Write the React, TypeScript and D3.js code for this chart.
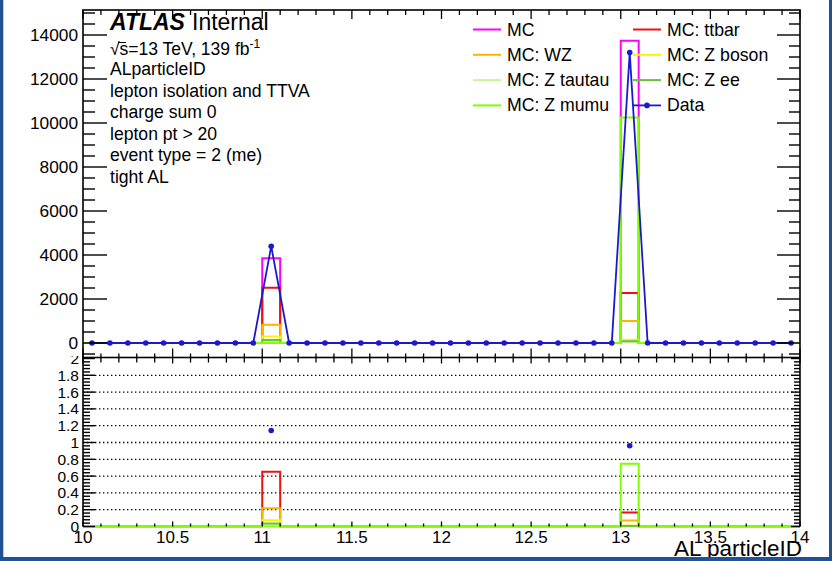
import React from "react";
import * as d3 from "d3";

// Histogram binning: 40 bins of width 0.1 on [10, 14]
const binLow: number[] = d3.range(40).map((i) => +(10 + i * 0.1).toFixed(2));
const binWidth = 0.1;

// Event counts per bin (bins 11.0-11.1 and 13.0-13.1 are populated)
const dataCounts = [
  0, 0, 0, 0, 0, 0, 0, 0, 0, 0,
  4400, 0, 0, 0, 0, 0, 0, 0, 0, 0,
  0, 0, 0, 0, 0, 0, 0, 0, 0, 0,
  13200, 0, 0, 0, 0, 0, 0, 0, 0, 0,
];
const mcTotal = [
  0, 0, 0, 0, 0, 0, 0, 0, 0, 0,
  3850, 0, 0, 0, 0, 0, 0, 0, 0, 0,
  0, 0, 0, 0, 0, 0, 0, 0, 0, 0,
  13740, 0, 0, 0, 0, 0, 0, 0, 0, 0,
];
const mcTtbar = [
  0, 0, 0, 0, 0, 0, 0, 0, 0, 0,
  2510, 0, 0, 0, 0, 0, 0, 0, 0, 0,
  0, 0, 0, 0, 0, 0, 0, 0, 0, 0,
  2270, 0, 0, 0, 0, 0, 0, 0, 0, 0,
];
const mcWZ = [
  0, 0, 0, 0, 0, 0, 0, 0, 0, 0,
  835, 0, 0, 0, 0, 0, 0, 0, 0, 0,
  0, 0, 0, 0, 0, 0, 0, 0, 0, 0,
  1000, 0, 0, 0, 0, 0, 0, 0, 0, 0,
];
const mcZboson = [
  0, 0, 0, 0, 0, 0, 0, 0, 0, 0,
  290, 0, 0, 0, 0, 0, 0, 0, 0, 0,
  0, 0, 0, 0, 0, 0, 0, 0, 0, 0,
  150, 0, 0, 0, 0, 0, 0, 0, 0, 0,
];
const mcZtautau = [
  0, 0, 0, 0, 0, 0, 0, 0, 0, 0,
  80, 0, 0, 0, 0, 0, 0, 0, 0, 0,
  0, 0, 0, 0, 0, 0, 0, 0, 0, 0,
  60, 0, 0, 0, 0, 0, 0, 0, 0, 0,
];
const mcZee = [
  0, 0, 0, 0, 0, 0, 0, 0, 0, 0,
  135, 0, 0, 0, 0, 0, 0, 0, 0, 0,
  0, 0, 0, 0, 0, 0, 0, 0, 0, 0,
  80, 0, 0, 0, 0, 0, 0, 0, 0, 0,
];
const mcZmumu = [
  0, 0, 0, 0, 0, 0, 0, 0, 0, 0,
  0, 0, 0, 0, 0, 0, 0, 0, 0, 0,
  0, 0, 0, 0, 0, 0, 0, 0, 0, 0,
  10250, 0, 0, 0, 0, 0, 0, 0, 0, 0,
];

const xTickLabels = ["10", "10.5", "11", "11.5", "12", "12.5", "13", "13.5", "14"];
const yTopTickLabels = ["0", "2000", "4000", "6000", "8000", "10000", "12000", "14000"];
const yRatioTickLabels = ["0", "0.2", "0.4", "0.6", "0.8", "1", "1.2", "1.4", "1.6", "1.8", "2"];

const infoLines = [
  "ALparticleID",
  "lepton isolation and TTVA",
  "charge sum 0",
  "lepton pt > 20",
  "event type = 2 (me)",
  "tight AL",
];

const series = [
  { name: "MC", values: mcTotal, color: "#ff00ff" },
  { name: "MC: ttbar", values: mcTtbar, color: "#ee1111" },
  { name: "MC: WZ", values: mcWZ, color: "#ffb300" },
  { name: "MC: Z boson", values: mcZboson, color: "#f5f500" },
  { name: "MC: Z tautau", values: mcZtautau, color: "#c8f59a" },
  { name: "MC: Z ee", values: mcZee, color: "#6cc040" },
  { name: "MC: Z mumu", values: mcZmumu, color: "#7fff00" },
];
const dataColor = "#1a1acc";

const FONT = "'Liberation Sans', Arial, Helvetica, sans-serif";

// Frame geometry
const L = 83;
const R = 800;
const TOP = 10;
const MID = 357.5;
const BOT = 526.5;

export default function App() {
  const x = d3.scaleLinear().domain([10, 14]).range([L, R]);
  const yT = d3.scaleLinear().domain([0, 14000]).range([343, 35]);
  const yR = d3.scaleLinear().domain([0, 2]).range([BOT, 358.5]);

  const stepLine = (vals: number[], y: d3.ScaleLinear<number, number>) => {
    const pts: [number, number][] = binLow.map((b, i) => [x(b), y(vals[i])]);
    pts.push([x(binLow[binLow.length - 1] + binWidth), y(vals[vals.length - 1])]);
    return d3.line().curve(d3.curveStepAfter)(pts) as string;
  };

  const centers = binLow.map((b) => b + binWidth / 2);
  const dataLine = d3.line()(centers.map((c, i) => [x(c), yT(dataCounts[i])] as [number, number])) as string;

  const ratio = (vals: number[]) => vals.map((v, i) => (mcTotal[i] > 0 ? v / mcTotal[i] : 0));
  const dataRatioPts = centers
    .map((c, i) => ({ c, r: mcTotal[i] > 0 ? dataCounts[i] / mcTotal[i] : null }))
    .filter((d) => d.r !== null) as { c: number; r: number }[];

  // Tick positions
  const xMajor = d3.range(0, 9).map((i) => 10 + i * 0.5);
  const xMinor = d3.range(0, 41).map((i) => 10 + i * 0.1);
  const yTopMajor = d3.range(0, 8).map((i) => i * 2000);
  const yTopMinor = d3.range(-1, 31).map((i) => i * 500);
  const yRMajor = d3.range(0, 11).map((i) => i * 0.2);
  const yRMinor = d3.range(0, 51).map((i) => i * 0.04);
  const gridVals = d3.range(1, 10).map((i) => i * 0.2);

  const tick = "#000";

  return (
    <svg
      width={832}
      height={561}
      style={{ position: "absolute", left: 0, top: 0, background: "#fff" }}
      fontFamily={FONT}
    >
      <defs>
        <clipPath id="topClip">
          <rect x={L} y={TOP} width={R - L} height={MID - TOP} />
        </clipPath>
        <clipPath id="ratioClip">
          <rect x={L} y={MID} width={R - L} height={BOT - MID + 1} />
        </clipPath>
        <clipPath id="ratioLabelClip">
          <rect x={0} y={356} width={832} height={205} />
        </clipPath>
      </defs>
      <rect x={0} y={0} width={832} height={561} fill="#fff" />

      {/* ---------- Ratio panel ---------- */}
      <g>
        {gridVals.map((v) => (
          <line
            key={"g" + v}
            x1={L}
            x2={R}
            y1={yR(v)}
            y2={yR(v)}
            stroke="#000"
            strokeWidth={1.3}
            strokeDasharray="1.4 2.6"
          />
        ))}
        <g clipPath="url(#ratioClip)">
          {series.slice(1).map((s) => (
            <path key={"r" + s.name} d={stepLine(ratio(s.values), yR)} fill="none" stroke={s.color} strokeWidth={2} />
          ))}
        </g>
        {dataRatioPts.map((d) => (
          <circle key={"dr" + d.c} cx={x(d.c)} cy={yR(d.r)} r={2.8} fill={dataColor} />
        ))}
        {/* ratio frame */}
        <line x1={L} x2={L} y1={MID} y2={BOT} stroke="#000" strokeWidth={1.6} />
        <line x1={R} x2={R} y1={MID} y2={BOT} stroke="#000" strokeWidth={1.6} />
        {yRMinor.map((v, i) => {
          const major = i % 5 === 0;
          const len = major ? 12 : 7;
          return (
            <g key={"ryt" + i}>
              <line x1={L} x2={L + len} y1={yR(v)} y2={yR(v)} stroke={tick} strokeWidth={1.4} />
              <line x1={R} x2={R - (major ? 9 : 6)} y1={yR(v)} y2={yR(v)} stroke={tick} strokeWidth={1.4} />
            </g>
          );
        })}
        {xMinor.map((v, i) => {
          const major = i % 5 === 0;
          return (
            <g key={"rxt" + i}>
              <line x1={x(v)} x2={x(v)} y1={BOT} y2={BOT - (major ? 5 : 3)} stroke={tick} strokeWidth={1.3} />
              <line x1={x(v)} x2={x(v)} y1={MID} y2={MID + (major ? 6 : 5)} stroke={tick} strokeWidth={1.3} />
            </g>
          );
        })}
        <g clipPath="url(#ratioLabelClip)">
          {yRatioTickLabels.map((t, i) => (
            <text
              key={"ryl" + t}
              x={79}
              y={yR(yRMajor[i])}
              textAnchor="end"
              dominantBaseline="central"
              fontSize={15.5}
              fill="#000"
            >
              {t}
            </text>
          ))}
        </g>
        {xTickLabels.map((t, i) => (
          <text key={"xl" + t} x={x(xMajor[i])} y={543} textAnchor="middle" fontSize={17} fill="#000">
            {t}
          </text>
        ))}
        <text x={802} y={556} textAnchor="end" fontSize={22.5} fill="#000">
          AL particleID
        </text>
      </g>

      {/* ---------- Main panel ---------- */}
      <g>
        <g clipPath="url(#topClip)">
          {series.map((s) => (
            <path key={"t" + s.name} d={stepLine(s.values, yT)} fill="none" stroke={s.color} strokeWidth={2} />
          ))}
          <path d={dataLine} fill="none" stroke={dataColor} strokeWidth={1.8} />
          {centers.map((c, i) => (
            <circle key={"dp" + i} cx={x(c)} cy={yT(dataCounts[i])} r={2.8} fill={dataColor} />
          ))}
        </g>
        <rect x={L} y={TOP} width={R - L} height={MID - TOP} fill="none" stroke="#000" strokeWidth={1.6} />
        {yTopMinor.map((v, i) => {
          const major = v % 2000 === 0;
          return (
            <g key={"tyt" + i}>
              <line x1={L} x2={L + (major ? 24 : 12)} y1={yT(v)} y2={yT(v)} stroke={tick} strokeWidth={1.4} />
              <line x1={R} x2={R - (major ? 23 : 11)} y1={yT(v)} y2={yT(v)} stroke={tick} strokeWidth={1.4} />
            </g>
          );
        })}
        {xMinor.map((v, i) => {
          const major = i % 5 === 0;
          return (
            <g key={"txt" + i}>
              <line x1={x(v)} x2={x(v)} y1={TOP} y2={TOP + (major ? 9 : 5)} stroke={tick} strokeWidth={1.3} />
              <line x1={x(v)} x2={x(v)} y1={MID} y2={MID - (major ? 9 : 4)} stroke={tick} strokeWidth={1.3} />
            </g>
          );
        })}
        {yTopTickLabels.map((t, i) => (
          <text
            key={"tyl" + t}
            x={78}
            y={yT(yTopMajor[i])}
            textAnchor="end"
            dominantBaseline="central"
            fontSize={17.3}
            fill="#000"
          >
            {t}
          </text>
        ))}

        {/* Labels block */}
        <text x={110} y={30} fontSize={23} fontWeight="bold" fontStyle="italic" fill="#000">
          ATLAS
        </text>
        <text x={192} y={30} fontSize={23} fill="#000">
          Internal
        </text>
        <text x={110} y={55} fontSize={17.5} fill="#000">
          √s=13 TeV, 139 fb
          <tspan dy={-7} fontSize={12}>
            -1
          </tspan>
        </text>
        <line x1={118} x2={126} y1={42.5} y2={42.5} stroke="#000" strokeWidth={1} />
        {infoLines.map((t, i) => (
          <text key={"info" + i} x={110} y={75 + i * 21.6} fontSize={17.6} fill="#000">
            {t}
          </text>
        ))}

        {/* Legend */}
        {series.map((s, i) => {
          const col = i % 2;
          const row = Math.floor(i / 2);
          const lx = col === 0 ? 473 : 633;
          const cy = 29.5 + row * 25.3;
          return (
            <g key={"lg" + s.name}>
              <line x1={lx} x2={lx + 28} y1={cy} y2={cy} stroke={s.color} strokeWidth={2} />
              <text x={lx + 34} y={cy} dominantBaseline="central" fontSize={17.7} fill="#000">
                {s.name}
              </text>
            </g>
          );
        })}
        <g>
          <line x1={633} x2={661} y1={29.5 + 3 * 25.3} y2={29.5 + 3 * 25.3} stroke={dataColor} strokeWidth={1.8} />
          <circle cx={647} cy={29.5 + 3 * 25.3} r={2.8} fill={dataColor} />
          <text x={667} y={29.5 + 3 * 25.3} dominantBaseline="central" fontSize={17.7} fill="#000">
            Data
          </text>
        </g>
      </g>

      {/* Window border */}
      <rect x={0} y={0} width={3.3} height={561} fill="#1f5197" />
      <rect x={829} y={0} width={3} height={561} fill="#1f5197" />
      <rect x={0} y={557} width={832} height={4} fill="#1f5197" />
    </svg>
  );
}
